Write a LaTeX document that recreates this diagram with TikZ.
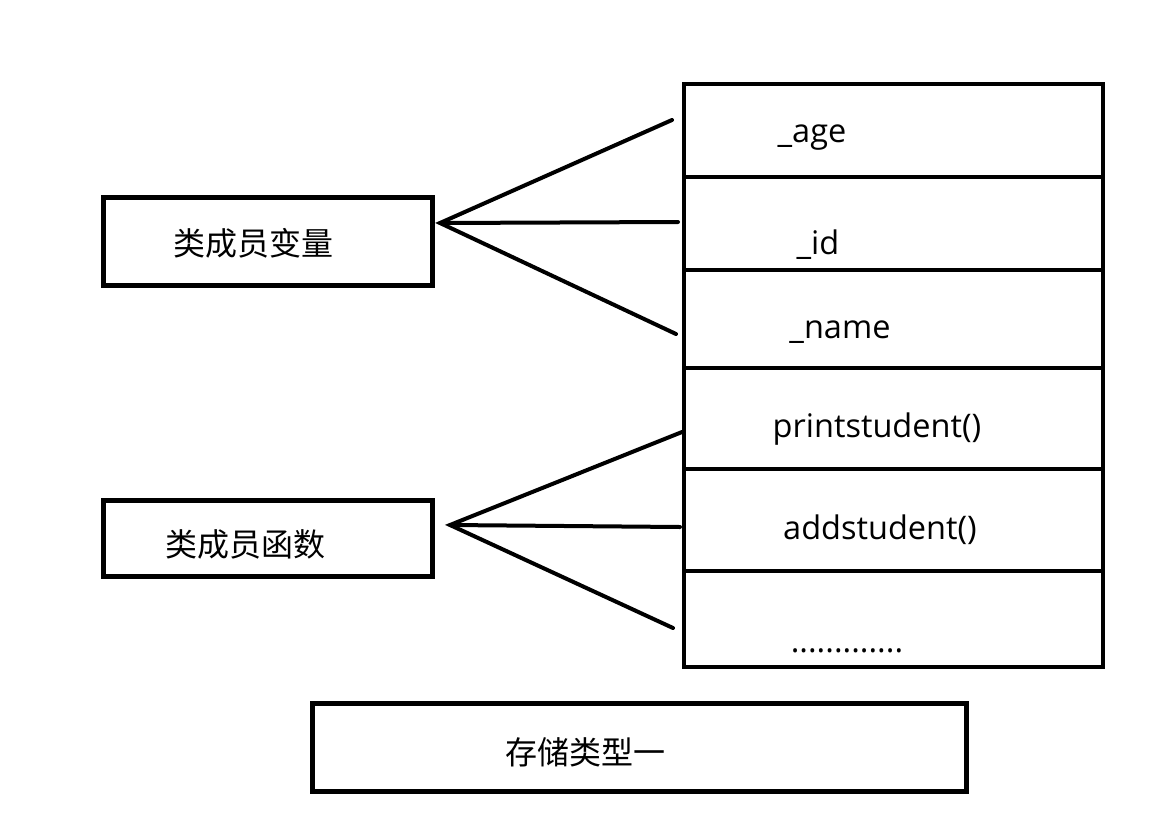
\documentclass[tikz,border=0pt]{standalone}
\usepackage{fontspec}
\setmainfont{Open Sans}
\newfontfamily\cjk{Noto Sans CJK SC}
\begin{document}
\begin{tikzpicture}[x=1pt,y=-1pt,
  box/.style={draw=black,line width=5pt,minimum width=#1,inner sep=0pt},
  cell/.style={draw=black,line width=4pt,minimum width=419pt,minimum height=#1,inner sep=0pt},
  conn/.style={line width=4pt,line cap=round},
  lab/.style={font=\fontsize{32.5}{34}\selectfont},
  clab/.style={font=\cjk\fontsize{32}{34}\selectfont}]
\useasboundingbox (0,0) rectangle (1173,838);
% left boxes
\node[box=329pt,minimum height=88pt] (var) at (267.5,241) {};
\node[clab] at (253,243) {类成员变量};
\node[box=329pt,minimum height=76pt] (fun) at (267.5,538) {};
\node[clab] at (245,544) {类成员函数};
\node[box=654pt,minimum height=88pt] (type) at (639,747) {};
\node[clab] at (585,752) {存储类型一};
% table cells
\node[cell=93pt] (c1) at (893.5,130.5) {};
\node[cell=93pt] (c2) at (893.5,223.5) {};
\node[cell=98pt] (c3) at (893.5,319) {};
\node[cell=101pt] (c4) at (893.5,418.5) {};
\node[cell=102pt] (c5) at (893.5,520) {};
\node[cell=96pt] (c6) at (893.5,619) {};
\node[lab] at (812,138) {\_age};
\node[lab] at (818,245) {\_id};
\node[lab] at (840,332) {\_name};
\node[lab] at (877,429) {printstudent()};
\node[lab] at (880,530) {addstudent()};
\node[lab] at (847,651) {.............};
% connectors
\coordinate (v) at (440,223);
\coordinate (v1) at (672,120);
\coordinate (v2) at (678,222);
\coordinate (v3) at (676,334);
\coordinate (f) at (450,525);
\coordinate (f1) at (682,432);
\coordinate (f2) at (680,527);
\coordinate (f3) at (673,628);
\draw[conn] (v1) -- (v) -- (v3);
\draw[conn] (v) -- (v2);
\draw[conn] (f1) -- (f) -- (f3);
\draw[conn] (f) -- (f2);
\end{tikzpicture}
\end{document}
